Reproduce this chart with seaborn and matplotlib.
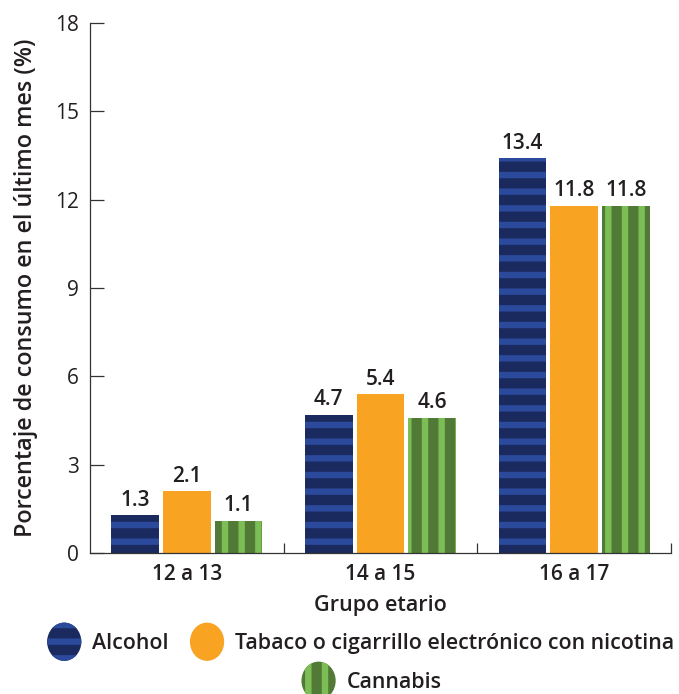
import matplotlib
matplotlib.use("Agg")
import matplotlib.pyplot as plt
import seaborn as sns
import pandas as pd
from matplotlib.patches import Patch, Ellipse
from matplotlib.legend_handler import HandlerPatch

groups = ["12 a 13", "14 a 15", "16 a 17"]
series = ["Alcohol", "Tabaco o cigarrillo electrónico con nicotina", "Cannabis"]
alcohol = [1.3, 4.7, 13.4]
tabaco = [2.1, 5.4, 11.8]
cannabis = [1.1, 4.6, 11.8]
yticks = [0, 3, 6, 9, 12, 15, 18]

base_colors = ["#1b2a5e", "#f9a323", "#517a36"]
stripe_colors = ["#2b4a9c", "#f9a323", "#7dbd56"]
hatches = ["-", "", "|"]

sns.set_theme(style="white")
plt.rcParams["font.family"] = ["Open Sans", "DejaVu Sans"]
plt.rcParams["font.weight"] = "semibold"
plt.rcParams["axes.labelweight"] = "semibold"
plt.rcParams["hatch.linewidth"] = 4.6

df = pd.DataFrame({
    "grupo": groups * 3,
    "serie": [series[0]] * 3 + [series[1]] * 3 + [series[2]] * 3,
    "valor": alcohol + tabaco + cannabis,
})

fig = plt.figure(figsize=(6.79, 6.94), dpi=100)
ax = fig.add_axes([90 / 679, 1 - 553 / 694, 581 / 679, 530 / 694])

sns.barplot(data=df, x="grupo", y="valor", hue="serie", hue_order=series,
            order=groups, palette=base_colors, width=0.8, gap=0.08,
            errorbar=None, legend=False, ax=ax, saturation=1)

text_color = "#231f20"
for i, cont in enumerate(ax.containers):
    for bar in cont:
        bar.set_facecolor(base_colors[i])
        bar.set_edgecolor(stripe_colors[i])
        bar.set_linewidth(0)
        if hatches[i]:
            bar.set_hatch(hatches[i])
    ax.bar_label(cont, fmt="%.1f", padding=3, fontsize=15,
                 fontweight="semibold", color=text_color)

ax.set_ylim(0, 18)
ax.set_xlim(-0.5, 2.5)
ax.set_yticks(yticks)
ax.set_yticklabels([str(v) for v in yticks], fontsize=15, color=text_color,
                   fontweight="normal")
ax.tick_params(axis="y", direction="in", length=10, width=0.9, color="#333333", pad=8, left=True)
ax.tick_params(axis="x", which="major", length=0, labelsize=15, pad=8, labelcolor=text_color)
ax.set_xticks([0.5, 1.5, 2.5], minor=True)
ax.tick_params(axis="x", which="minor", direction="in", length=7, width=0.9,
               color="#333333", bottom=True)

for s in ["top", "right"]:
    ax.spines[s].set_visible(False)
for s in ["left", "bottom"]:
    ax.spines[s].set_color("#333333")
    ax.spines[s].set_linewidth(0.9)

ax.set_xlabel("Grupo etario", fontsize=15.5, fontweight="semibold",
              color=text_color, labelpad=7)
ax.set_ylabel("Porcentaje de consumo en el último mes (%)", fontsize=16.8,
              fontweight="semibold", color=text_color, labelpad=12)


class HandlerEllipse(HandlerPatch):
    def create_artists(self, legend, orig_handle, xdescent, ydescent,
                       width, height, fontsize, trans):
        ew = width
        eh = width * 38.0 / 34.0
        center = (-xdescent + 0.5 * width, -ydescent + 0.5 * height)
        p = Ellipse(xy=center, width=ew, height=eh)
        self.update_prop(p, orig_handle, legend)
        p.set_transform(trans)
        return [p]


handles = [Patch(facecolor=base_colors[i], edgecolor=stripe_colors[i],
                 linewidth=0, hatch=hatches[i] or None, label=series[i])
           for i in range(3)]

leg_kw = dict(frameon=False, prop={"size": 15.4, "weight": "semibold"},
              handlelength=1.6, handleheight=1.3,
              handletextpad=0.5, handler_map={Patch: HandlerEllipse()},
              labelcolor=text_color)
leg1 = fig.legend(handles=handles[:2], loc="center", bbox_to_anchor=(0.531, 1 - 642 / 694),
                  ncol=2, columnspacing=1.0, **leg_kw)
leg2 = fig.legend(handles=handles[2:], loc="center", bbox_to_anchor=(0.547, 1 - 681 / 694),
                  ncol=1, **leg_kw)

fig.savefig("out.png", dpi=100)
